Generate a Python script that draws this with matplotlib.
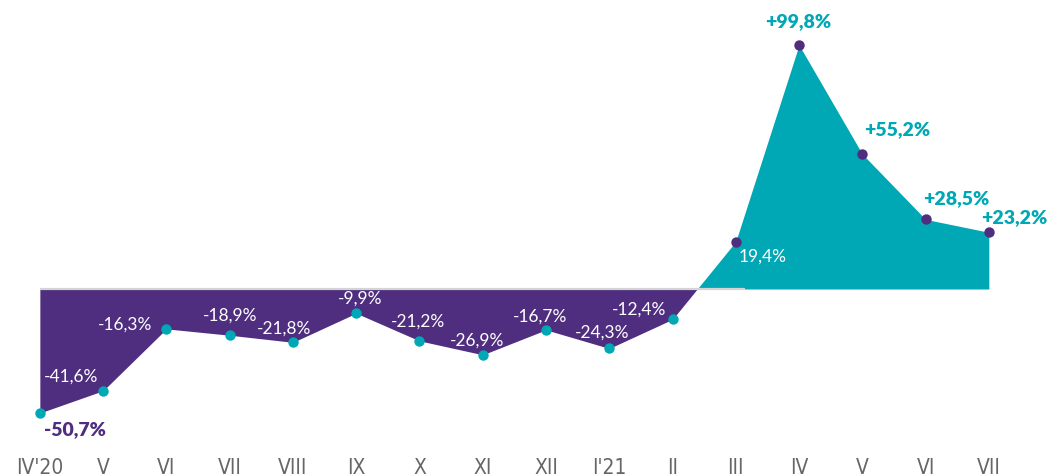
import numpy as np
import matplotlib.pyplot as plt

months = ["IV'20", "V", "VI", "VII", "VIII", "IX", "X", "XI", "XII", "I'21",
          "II", "III", "IV", "V", "VI", "VII"]
change = [-50.7, -41.6, -16.3, -18.9, -21.8, -9.9, -21.2, -26.9, -16.7, -24.3,
          -12.4, 19.4, 99.8, 55.2, 28.5, 23.2]
labels = ["-50,7%", "-41,6%", "-16,3%", "-18,9%", "-21,8%", "-9,9%", "-21,2%",
          "-26,9%", "-16,7%", "-24,3%", "-12,4%", "19,4%", "+99,8%", "+55,2%",
          "+28,5%", "+23,2%"]
highlight = ["-50,7%", "+99,8%", "+55,2%", "+28,5%", "+23,2%"]

purple = '#4f2d7f'
teal = '#00a8b5'

# label offsets in pixels (dx, dy)
offsets = [(35, -16), (-32, 15), (-41, 5), (0, 21), (-9, 15), (4, 16), (-1, 20),
           (-6, 15), (-6, 14), (-7, 17), (-33, 11), (27, -14), (-1, 24), (35, 25),
           (31, 22), (25, 16)]

x = np.arange(len(change))
y = np.array(change)

# split at zero crossing so each sign gets its own colour
xs, ys = [], []
for i in range(len(x)):
    xs.append(x[i]); ys.append(y[i])
    if i < len(x) - 1 and y[i] * y[i + 1] < 0:
        t = y[i] / (y[i] - y[i + 1])
        xs.append(x[i] + t); ys.append(0.0)
xs = np.array(xs); ys = np.array(ys)

fig = plt.figure(figsize=(10.54, 4.77), dpi=100)
ax = fig.add_axes([0, 40.3 / 477, 1, 403.4 / 477])
ax.set_xlim(-0.63, 16.03)
ax.set_ylim(-60, 105)

ax.fill_between(xs, ys, 0, where=ys <= 0, color=purple, lw=0, zorder=1)
ax.fill_between(xs, ys, 0, where=ys >= 0, color=teal, lw=0, zorder=1)
ax.plot([0, 11.15], [0, 0], color='#d4d4d4', lw=1.6, zorder=2,
        solid_capstyle='butt')

neg = y < 0
ax.plot(x[neg], y[neg], 'o', color=teal, ms=7.5, mec='none', zorder=3)
ax.plot(x[~neg], y[~neg], 'o', color=purple, ms=7.5, mec='none', zorder=3)

for xi, yi, lab, (dx, dy) in zip(x, y, labels, offsets):
    if lab in highlight:
        col = purple if yi < 0 else teal
        ax.annotate(lab, (xi, yi), xytext=(dx * 0.72, dy * 0.72),
                    textcoords='offset points', ha='center', va='center',
                    fontsize=14, fontweight='heavy', color=col,
                    family=['Lato', 'DejaVu Sans'], zorder=4)
    else:
        ax.annotate(lab, (xi, yi), xytext=(dx * 0.72, dy * 0.72),
                    textcoords='offset points', ha='center', va='center',
                    fontsize=12.5, color='white',
                    family=['Lato', 'DejaVu Sans'], zorder=4)

ax.set_xticks(x)
ax.set_xticklabels(months, family='DejaVu Sans', fontstretch='condensed',
                   fontweight='light', fontsize=15, color='#666666')
ax.tick_params(axis='x', length=0, pad=15)
ax.set_yticks([])
for s in ax.spines.values():
    s.set_visible(False)

fig.savefig('out.png', dpi=100)
